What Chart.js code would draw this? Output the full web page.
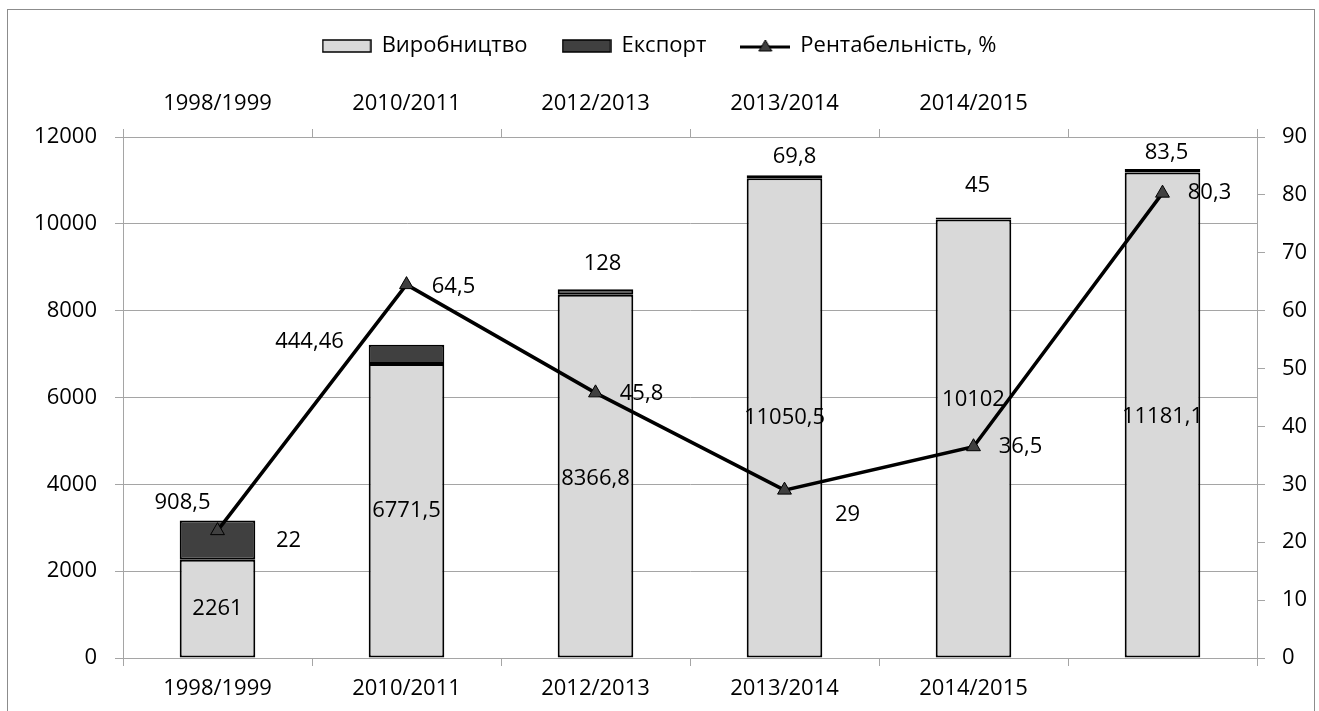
<!DOCTYPE html>
<html>
<head>
<meta charset="utf-8">
<script src="https://cdn.jsdelivr.net/npm/chart.js@4.4.1/dist/chart.umd.min.js"></script>
<style>
  html, body { margin: 0; padding: 0; background: #fff; }
  #wrap { position: relative; width: 1319px; height: 711px; }
</style>
</head>
<body>
<div id="wrap"><canvas id="chart"></canvas></div>
<script>
// values
const seasons = ["1998/1999", "2010/2011", "2012/2013", "2013/2014", "2014/2015", ""];
const production = [2261, 6771.5, 8366.8, 11050.5, 10102, 11181.1];
const exportVolume = [908.5, 444.46, 128, 69.8, 45, 83.5];
const profitability = [22, 64.5, 45.8, 29, 36.5, 80.3];

const leftTicks = { min: 0, max: 12000, step: 2000 };
const rightTicks = { min: 0, max: 90, step: 10 };

// label nudges (px) relative to the bar centre / bar top / point
const productionShift = [[0, 0], [0, 0], [0, 3], [0, 0], [0, -39], [0, 2]];
const exportShift = [[-35, -18], [-97, -3], [7, -25], [10, -18], [4, -32], [4, -16]];
const profitShift = [[71, 10], [47, 2], [46, 1], [63, 25], [47, 0], [47, 0]];

const FONT = { family: "'Open Sans', sans-serif", size: 22 };
const GRID = "#a5a5a5";

function swatch(kind, fill) {
  const c = document.createElement("canvas");
  c.width = 50;
  c.height = 18;
  const g = c.getContext("2d");
  if (kind === "line") {
    g.strokeStyle = "#000";
    g.lineWidth = 3;
    g.beginPath();
    g.moveTo(0, 10);
    g.lineTo(50, 10);
    g.stroke();
    g.beginPath();
    g.moveTo(25, 3);
    g.lineTo(31.5, 14);
    g.lineTo(18.5, 14);
    g.closePath();
    g.fillStyle = fill;
    g.fill();
    g.lineWidth = 1;
    g.stroke();
  } else {
    g.fillStyle = fill;
    g.fillRect(1, 3, 48, 12);
    g.strokeStyle = "#000";
    g.lineWidth = 1.5;
    g.strokeRect(1, 3, 48, 12);
  }
  return c;
}

const valueLabels = {
  id: "valueLabels",
  afterDatasetsDraw(chart) {
    const ctx = chart.ctx;
    ctx.save();
    ctx.font = `${FONT.size}px ${FONT.family}`;
    ctx.fillStyle = "#000";
    ctx.textAlign = "center";
    ctx.textBaseline = "middle";
    chart.data.datasets.forEach((ds, i) => {
      const meta = chart.getDatasetMeta(i);
      meta.data.forEach((el, j) => {
        const [dx, dy] = ds.labelShift[j];
        let y = el.y;
        if (ds.labelAnchor === "center") y = (el.y + el.base) / 2;
        ctx.fillText(String(ds.data[j]).replace(".", ","), el.x + dx, y + dy);
      });
    });
    ctx.restore();
  },
};

const frame = {
  id: "frame",
  beforeDraw(chart) {
    const ctx = chart.ctx;
    ctx.save();
    ctx.fillStyle = "#fff";
    ctx.fillRect(0, 0, chart.width, chart.height);
    ctx.strokeStyle = "#8c8c8c";
    ctx.lineWidth = 1;
    ctx.strokeRect(7.5, 9.5, 1307, 720);
    ctx.restore();
  },
};

new Chart(document.getElementById("chart"), {
  data: {
    labels: seasons,
    datasets: [
      {
        type: "line",
        label: "Рентабельність, %",
        data: profitability,
        yAxisID: "y1",
        order: 0,
        borderColor: "#000",
        borderWidth: 3.5,
        tension: 0,
        pointStyle: "triangle",
        pointRadius: 8,
        pointBackgroundColor: "#404040",
        pointBorderColor: "#000",
        pointBorderWidth: 1,
        labelShift: profitShift,
        labelAnchor: "point",
      },
      {
        type: "bar",
        label: "Виробництво",
        data: production,
        yAxisID: "y",
        order: 1,
        backgroundColor: "#d9d9d9",
        borderColor: "#000",
        borderWidth: 2,
        borderSkipped: false,
        barPercentage: 0.4,
        categoryPercentage: 1,
        labelShift: productionShift,
        labelAnchor: "center",
      },
      {
        type: "bar",
        label: "Експорт",
        data: exportVolume,
        yAxisID: "y",
        order: 2,
        backgroundColor: "#404040",
        borderColor: "#000",
        borderWidth: 2,
        borderSkipped: false,
        barPercentage: 0.4,
        categoryPercentage: 1,
        labelShift: exportShift,
        labelAnchor: "top",
      },
    ],
  },
  options: {
    responsive: true,
    maintainAspectRatio: false,
    animation: false,
    events: [],
    layout: { padding: { top: 0, left: 0, right: 0, bottom: 0 } },
    plugins: {
      tooltip: { enabled: false },
      legend: {
        position: "top",
        labels: {
          color: "#000",
          font: FONT,
          padding: 35,
          usePointStyle: true,
          pointStyleWidth: 48,
          generateLabels: () => [
            { text: "Виробництво", pointStyle: swatch("box", "#d9d9d9"), datasetIndex: 1, hidden: false, lineWidth: 0 },
            { text: "Експорт", pointStyle: swatch("box", "#404040"), datasetIndex: 2, hidden: false, lineWidth: 0 },
            { text: "Рентабельність, %", pointStyle: swatch("line", "#404040"), datasetIndex: 0, hidden: false, lineWidth: 0 },
          ],
        },
      },
    },
    scales: {
      x: {
        type: "category",
        position: "bottom",
        stacked: true,
        offset: true,
        grid: { offset: true, drawOnChartArea: false, tickLength: 8, color: GRID },
        border: { color: GRID },
        ticks: { color: "#000", font: FONT, padding: 10, maxRotation: 0, autoSkip: false },
        afterFit: (s) => { s.height = 53; },
      },
      x2: {
        type: "category",
        labels: seasons,
        position: "top",
        offset: true,
        grid: { offset: true, drawOnChartArea: false, tickLength: 8, color: GRID },
        border: { color: GRID },
        ticks: { color: "#000", font: FONT, padding: 12, maxRotation: 0, autoSkip: false },
        afterFit: (s) => { s.height = 70; },
      },
      y: {
        position: "left",
        stacked: true,
        min: leftTicks.min,
        max: leftTicks.max,
        grid: { color: GRID, tickLength: 8 },
        border: { color: GRID },
        ticks: { stepSize: leftTicks.step, color: "#000", font: FONT, padding: 18, callback: (v) => String(v) },
        afterFit: (s) => { s.width = 123; },
      },
      y1: {
        position: "right",
        min: rightTicks.min,
        max: rightTicks.max,
        grid: { drawOnChartArea: false, color: GRID, tickLength: 8 },
        border: { color: GRID },
        ticks: { stepSize: rightTicks.step, color: "#000", font: FONT, padding: 17, callback: (v) => String(v) },
        afterFit: (s) => { s.width = 62; },
      },
    },
  },
  plugins: [frame, valueLabels],
});
</script>
</body>
</html>
